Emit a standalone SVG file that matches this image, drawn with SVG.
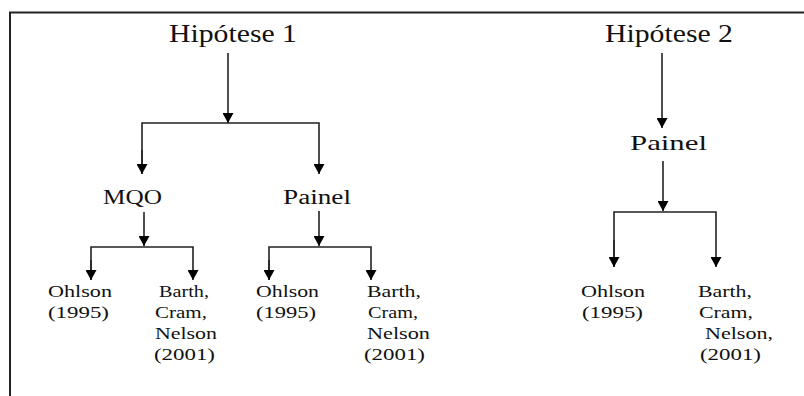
<svg xmlns="http://www.w3.org/2000/svg" width="804" height="396" viewBox="0 0 804 396">
<style>
.t{font-family:"Liberation Serif","Times New Roman",serif;fill:#111;}
.big{font-size:25px;}
.mid{font-size:20px;}
.mid2{font-size:22px;}
.sm{font-size:17px;}
.c{fill:none;stroke:#222;stroke-width:1.6;}
</style>
<defs>
<marker id="ah" markerUnits="userSpaceOnUse" markerWidth="11" markerHeight="11" refX="10" refY="5.5" orient="auto">
<path d="M0,0 L10,5.5 L0,11 z" fill="#000"/>
</marker>
</defs>
<rect width="804" height="396" fill="#fff"/>
<path d="M10,396 V12.5 H804" fill="none" stroke="#222" stroke-width="2"/>
<g id="connectors">
<line class="c" x1="228" y1="53" x2="228" y2="123" marker-end="url(#ah)"/>
<polyline class="c" points="142,174 142,123 319,123 319,174" marker-end="url(#ah)"/>
<line class="c" x1="142" y1="150" x2="142" y2="174" marker-end="url(#ah)"/>
<line class="c" x1="144" y1="212" x2="144" y2="246" marker-end="url(#ah)"/>
<polyline class="c" points="91,280 91,247 193,247 193,280" marker-end="url(#ah)"/>
<line class="c" x1="91" y1="260" x2="91" y2="280" marker-end="url(#ah)"/>
<line class="c" x1="319" y1="211" x2="319" y2="246" marker-end="url(#ah)"/>
<polyline class="c" points="269,280 269,247 371,247 371,280" marker-end="url(#ah)"/>
<line class="c" x1="269" y1="260" x2="269" y2="280" marker-end="url(#ah)"/>
<line class="c" x1="662" y1="53" x2="662" y2="128" marker-end="url(#ah)"/>
<line class="c" x1="663" y1="161" x2="663" y2="211" marker-end="url(#ah)"/>
<polyline class="c" points="614,267 614,212 716,212 716,267" marker-end="url(#ah)"/>
<line class="c" x1="614" y1="240" x2="614" y2="267" marker-end="url(#ah)"/>
</g>
<g id="hipotese1"><text class="t big" x="169" y="42" textLength="128" lengthAdjust="spacingAndGlyphs">Hipótese 1</text></g>
<g id="hipotese2"><text class="t big" x="605" y="42" textLength="128" lengthAdjust="spacingAndGlyphs">Hipótese 2</text></g>
<g id="mqo"><text class="t mid" x="103" y="204" textLength="59" lengthAdjust="spacingAndGlyphs">MQO</text></g>
<g id="painel1"><text class="t mid" x="283" y="204" textLength="68" lengthAdjust="spacingAndGlyphs">Painel</text></g>
<g id="painel2"><text class="t mid2" x="630" y="150" textLength="77" lengthAdjust="spacingAndGlyphs">Painel</text></g>
<g id="ohlson1" class="t sm">
<text x="48" y="297" textLength="64" lengthAdjust="spacingAndGlyphs">Ohlson</text>
<text x="48" y="318" textLength="61" lengthAdjust="spacingAndGlyphs">(1995)</text>
</g>
<g id="barth1" class="t sm">
<text x="159" y="297" textLength="50" lengthAdjust="spacingAndGlyphs">Barth,</text>
<text x="155" y="318" textLength="52" lengthAdjust="spacingAndGlyphs">Cram,</text>
<text x="155" y="339" textLength="62" lengthAdjust="spacingAndGlyphs">Nelson</text>
<text x="154" y="360" textLength="61" lengthAdjust="spacingAndGlyphs">(2001)</text>
</g>
<g id="ohlson2" class="t sm">
<text x="256" y="297" textLength="63" lengthAdjust="spacingAndGlyphs">Ohlson</text>
<text x="256" y="318" textLength="60" lengthAdjust="spacingAndGlyphs">(1995)</text>
</g>
<g id="barth2" class="t sm">
<text x="367" y="297" textLength="54" lengthAdjust="spacingAndGlyphs">Barth,</text>
<text x="368" y="318" textLength="50" lengthAdjust="spacingAndGlyphs">Cram,</text>
<text x="367" y="339" textLength="63" lengthAdjust="spacingAndGlyphs">Nelson</text>
<text x="364" y="360" textLength="61" lengthAdjust="spacingAndGlyphs">(2001)</text>
</g>
<g id="ohlson3" class="t sm">
<text x="581" y="297" textLength="64" lengthAdjust="spacingAndGlyphs">Ohlson</text>
<text x="582" y="318" textLength="61" lengthAdjust="spacingAndGlyphs">(1995)</text>
</g>
<g id="barth3" class="t sm">
<text x="698" y="297" textLength="54" lengthAdjust="spacingAndGlyphs">Barth,</text>
<text x="699" y="318" textLength="54" lengthAdjust="spacingAndGlyphs">Cram,</text>
<text x="705" y="339" textLength="68" lengthAdjust="spacingAndGlyphs">Nelson,</text>
<text x="700" y="360" textLength="61" lengthAdjust="spacingAndGlyphs">(2001)</text>
</g>
</svg>
